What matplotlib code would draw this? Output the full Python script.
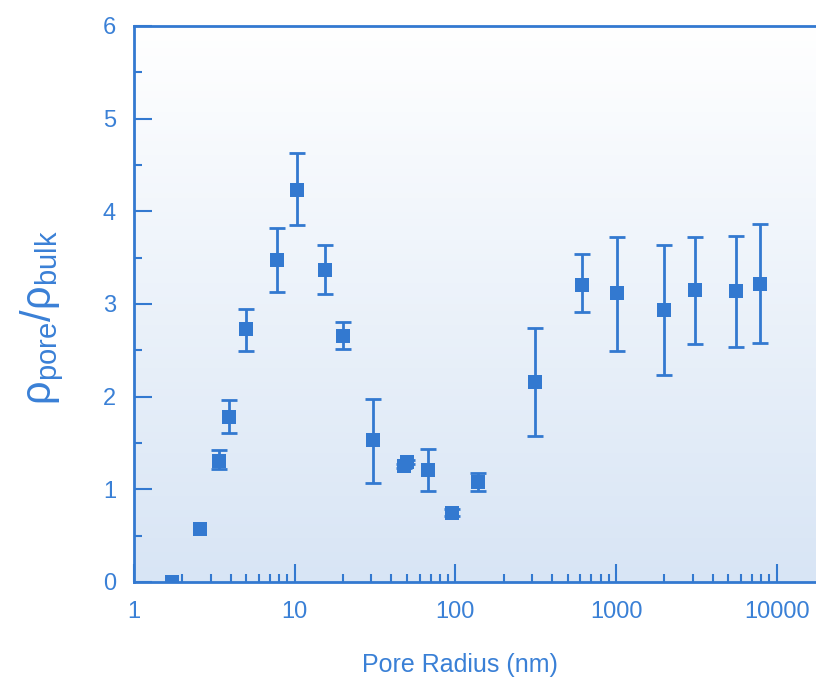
import numpy as np
import matplotlib
matplotlib.use("Agg")
import matplotlib.pyplot as plt
from matplotlib.ticker import LogLocator, MultipleLocator, FixedLocator, NullFormatter

plt.rcParams['font.family'] = ['Liberation Sans', 'DejaVu Sans']
plt.rcParams['mathtext.fontset'] = 'custom'
plt.rcParams['mathtext.rm'] = 'Liberation Sans'
plt.rcParams['mathtext.it'] = 'Liberation Sans'

# Pore radius (nm) and density ratio
radius = [1.72, 2.59, 3.40, 3.92, 5.0, 7.79, 10.4, 15.5, 20.0, 30.8, 48.2, 50.0,
          67.5, 95.7, 139, 314, 616, 1017, 1995, 3110, 5600, 7890]
ratio = [0.0, 0.57, 1.31, 1.78, 2.73, 3.48, 4.23, 3.37, 2.66, 1.53, 1.25, 1.29,
         1.21, 0.74, 1.08, 2.16, 3.21, 3.12, 2.94, 3.15, 3.14, 3.22]
# error bar ends (first two points have no visible bars)
err_low = [0.0, 0.57, 1.22, 1.61, 2.49, 3.13, 3.85, 3.11, 2.51, 1.07, 1.23, 1.27,
           0.98, 0.71, 0.98, 1.58, 2.91, 2.49, 2.23, 2.57, 2.54, 2.58]
err_high = [0.0, 0.57, 1.42, 1.96, 2.95, 3.82, 4.63, 3.64, 2.81, 1.97, 1.27, 1.32,
            1.43, 0.79, 1.18, 2.74, 3.54, 3.72, 3.64, 3.72, 3.73, 3.86]

blue = '#3379d0'
text_blue = '#3a80d6'

fig = plt.figure(figsize=(8.16, 6.81), dpi=100)
ax = fig.add_axes([134 / 816, 99 / 681, 4.5 * 160.7 / 816, 556 / 681])

# white-to-light-blue gradient background
grad = np.linspace(0, 1, 256).reshape(-1, 1)
cmap = matplotlib.colors.LinearSegmentedColormap.from_list('bg', ['#d8e5f5', '#ffffff'])
ax.imshow(grad, cmap=cmap, aspect='auto', extent=[0, 1, 0, 1], origin='lower',
          transform=ax.transAxes, zorder=0)

r = np.array(ratio)
has_err = np.array(err_high) > np.array(err_low)
rad = np.array(radius)
ax.errorbar(rad[has_err], r[has_err],
            yerr=[r[has_err] - np.array(err_low)[has_err],
                  np.array(err_high)[has_err] - r[has_err]],
            fmt='none', ecolor=blue, elinewidth=2, capsize=6, capthick=2, zorder=3)
ax.plot(radius, ratio, 's', color=blue, ms=9.5, mew=0, zorder=4)

ax.set_xscale('log')
ax.set_xlim(1, 10 ** 4.5)
ax.set_ylim(0, 6)

for s in ['left', 'bottom', 'top']:
    ax.spines[s].set_color(blue)
    ax.spines[s].set_linewidth(2)
    ax.spines[s].set_zorder(5)
ax.spines['right'].set_visible(False)

ax.xaxis.set_major_locator(FixedLocator([1, 10, 100, 1000, 10000]))
ax.set_xticklabels(['1', '10', '100', '1000', '10000'])
ax.xaxis.set_minor_locator(LogLocator(base=10, subs=np.arange(2, 10)))
ax.xaxis.set_minor_formatter(NullFormatter())
ax.yaxis.set_major_locator(MultipleLocator(1))
ax.yaxis.set_minor_locator(MultipleLocator(0.5))

ax.tick_params(which='both', direction='in', colors=blue, labelcolor=text_blue,
               labelsize=17, top=False, right=False)
ax.tick_params(which='major', length=13, width=1.5)
ax.tick_params(which='minor', length=6, width=1.5)
ax.tick_params(axis='y', which='major', pad=13)
ax.tick_params(axis='x', which='major', pad=14)

fig.text(460 / 816, 1 - 665 / 681, 'Pore Radius (nm)', color=text_blue,
         fontsize=18, ha='center', va='center')
fig.text(42 / 816, 1 - 318 / 681, r'$\mathregular{\rho_{pore}/\rho_{bulk}}$',
         color=text_blue, fontsize=30, rotation=90, ha='center', va='center')

fig.savefig('out.png', dpi=100)
